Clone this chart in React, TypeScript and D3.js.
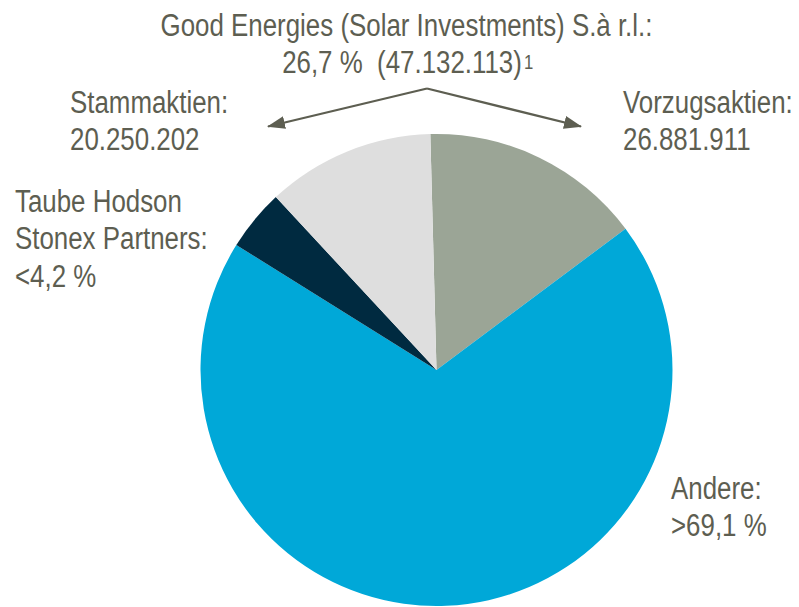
import React from "react";
import * as d3 from "d3";

// shareholder structure (percent of total shares)
const slices = ["Vorzugsaktien", "Andere", "Taube Hodson Stonex Partners", "Stammaktien"];
const shares = [15.2, 69.1, 4.2, 11.5];
const colors = ["#9ba596", "#00a8d8", "#002a40", "#dedede"];

const titleLines = ["Good Energies (Solar Investments) S.à r.l.:", "26,7 %  (47.132.113)"];
const footnoteMark = "1";
const labelLines = [
  ["Stammaktien:", "20.250.202"],
  ["Vorzugsaktien:", "26.881.911"],
  ["Taube Hodson", "Stonex Partners:", "<4,2 %"],
  ["Andere:", ">69,1 %"],
];
const labelPos = [
  { x: 70, y: 113 },
  { x: 623, y: 113 },
  { x: 15, y: 212 },
  { x: 671, y: 499 },
];

const W = 799;
const H = 607;
const cx = 436.5;
const cy = 370;
const radius = 236;
const textColor = "#5d5e51";
const font = "'Liberation Sans', Arial, sans-serif";
const fs = 31;
const lh = 37.5;
const squeeze = 0.835; // narrow face

export default function App() {
  const pie = d3
    .pie<number>()
    .sort(null)
    .startAngle((-1.5 * Math.PI) / 180)
    .endAngle((358.5 * Math.PI) / 180);
  const arcs = pie(shares);
  const arc = d3.arc<d3.PieArcDatum<number>>().innerRadius(0).outerRadius(radius);

  return (
    <svg
      width={W}
      height={H}
      style={{ position: "absolute", left: 0, top: 0, background: "#fff" }}
      fontFamily={font}
    >
      <defs>
        <marker
          id="ah"
          viewBox="0 0 18 13"
          refX="17"
          refY="6.5"
          markerWidth="18"
          markerHeight="13"
          markerUnits="userSpaceOnUse"
          orient="auto"
        >
          <path d="M0,0 L18,6.5 L0,13 z" fill={textColor} />
        </marker>
      </defs>
      <g transform={`translate(${cx},${cy})`}>
        {arcs.map((a, i) => (
          <path key={slices[i]} d={arc(a) || ""} fill={colors[i]} />
        ))}
      </g>

      <g transform={`translate(406.5,36) scale(${squeeze},1)`}>
        <text x={0} y={0} textAnchor="middle" fontSize={fs} fill={textColor}>
          {titleLines[0]}
        </text>
      </g>
      <g transform={`translate(402,72.5) scale(${squeeze},1)`}>
        <text x={0} y={0} textAnchor="middle" fontSize={fs} fill={textColor} style={{ whiteSpace: "pre" }}>
          {titleLines[1]}
        </text>
      </g>
      <g transform={`translate(524,69) scale(${squeeze},1)`}>
        <text x={0} y={0} fontSize={20} fill={textColor}>
          {footnoteMark}
        </text>
      </g>

      <path d="M427,88.5 L268,126.5" stroke={textColor} strokeWidth={2.3} fill="none" markerEnd="url(#ah)" />
      <path d="M427,88.5 L581,126.5" stroke={textColor} strokeWidth={2.3} fill="none" markerEnd="url(#ah)" />

      {labelLines.map((lines, i) => (
        <g key={i} transform={`translate(${labelPos[i].x},${labelPos[i].y}) scale(${squeeze},1)`}>
          <text fontSize={fs} fill={textColor}>
            {lines.map((l, j) => (
              <tspan key={j} x={0} y={j * lh}>
                {l}
              </tspan>
            ))}
          </text>
        </g>
      ))}
    </svg>
  );
}
